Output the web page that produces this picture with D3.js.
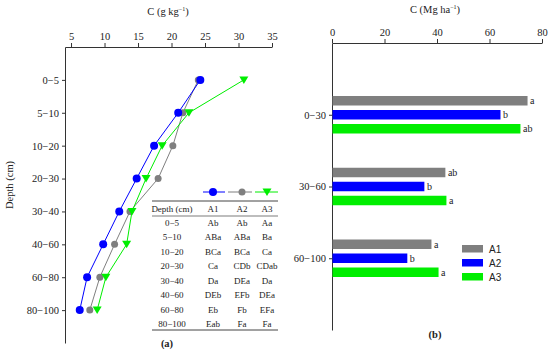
<!DOCTYPE html>
<html>
<head>
<meta charset="utf-8">
<script src="https://cdn.jsdelivr.net/npm/d3@7"></script>
<style>
  body { margin: 0; background: #fff; }
  text { font-family: "Liberation Serif", "Times New Roman", serif; fill: #222; }
  .axis path, .axis line { stroke: #333; }
</style>
</head>
<body>
<div id="chart"></div>
<script>
// panel (a): C concentration by depth
var depthsA = ["0\u22125", "5\u221210", "10\u221220", "20\u221230", "30\u221240", "40\u221260", "60\u221280", "80\u2212100"];
var concA1 = [24.3, 21.0, 17.4, 14.8, 12.2, 9.8, 7.4, 6.3];
var concA2 = [24.0, 21.7, 20.2, 18.0, 13.8, 11.5, 9.3, 7.8];
var concA3 = [30.8, 22.6, 18.6, 16.2, 14.1, 13.3, 10.2, 8.9];
var ticksA = [5, 10, 15, 20, 25, 30, 35];
// letters in the inset table
var lettersA1 = ["Ab", "ABa", "BCa", "Ca", "Da", "DEb", "Eb", "Eab"];
var lettersA2 = ["Ab", "ABa", "BCa", "CDb", "DEa", "EFb", "Fb", "Fa"];
var lettersA3 = ["Aa", "Ba", "Ca", "CDab", "Da", "DEa", "EFa", "Fa"];

// panel (b): C stock by layer
var depthsB = ["0\u221230", "30\u221260", "60\u2212100"];
var stockA1 = [74.3, 43.0, 37.7];
var stockA2 = [64.0, 35.0, 28.5];
var stockA3 = [71.6, 43.4, 40.4];
var lettersB1 = ["a", "ab", "a"];
var lettersB2 = ["b", "b", "b"];
var lettersB3 = ["ab", "a", "a"];
var ticksB = [0, 20, 40, 60, 80];

var blue = "#0000ff", gray = "#7f7f7f", green = "#00ee00";

var svg = d3.select("#chart").append("svg")
  .attr("width", 550).attr("height", 351);

// ---------- panel (a) ----------
var xa = d3.scaleLinear().domain([4.1, 35]).range([65, 272]);
var ya = d3.scalePoint().domain(depthsA).range([47, 343]).padding(1);

svg.append("g").attr("class", "axis")
  .attr("transform", "translate(0,47)")
  .call(d3.axisTop(xa).tickValues(ticksA).tickSize(4).tickSizeOuter(0))
  .call(g => g.selectAll("text").style("font-size", "10.5px").style("font-family", "Liberation Serif"));

svg.append("g").attr("class", "axis")
  .attr("transform", "translate(65,0)")
  .call(d3.axisLeft(ya).tickSize(3).tickSizeOuter(0))
  .call(g => g.selectAll("text").style("font-size", "10.5px").style("font-family", "Liberation Serif"));

var titleA = svg.append("text").attr("x", 168).attr("y", 15)
  .attr("text-anchor", "middle").style("font-size", "10.5px");
titleA.append("tspan").text("C (g kg");
titleA.append("tspan").attr("dy", -4).style("font-size", "6px").text("\u22121");
titleA.append("tspan").attr("dy", 4).text(")");

svg.append("text")
  .attr("transform", "translate(13,185) rotate(-90)")
  .attr("text-anchor", "middle").style("font-size", "10.5px")
  .text("Depth (cm)");

var seriesA = [
  { vals: concA1, color: blue, shape: "circle", r: 4 },
  { vals: concA2, color: gray, shape: "circle", r: 3.5 },
  { vals: concA3, color: green, shape: "tri", r: 4 }
];

var line = d3.line()
  .x(d => xa(d.v))
  .y(d => ya(d.d));

function drawMarker(g, s, x, y) {
  if (s.shape == "circle") {
    g.append("circle").attr("cx", x).attr("cy", y).attr("r", s.r).attr("fill", s.color);
  } else {
    g.append("path")
      .attr("d", "M" + (x - 4.5) + "," + (y - 3.5) + "L" + (x + 4.5) + "," + (y - 3.5) + "L" + x + "," + (y + 4) + "Z")
      .attr("fill", s.color);
  }
}

// draw gray first, then green, blue on top
[seriesA[1], seriesA[2], seriesA[0]].forEach(function(s) {
  var pts = s.vals.map((v, i) => ({ v: v, d: depthsA[i] }));
  svg.append("path").datum(pts)
    .attr("d", line)
    .attr("fill", "none")
    .attr("stroke", s.color)
    .attr("stroke-width", 1);
  var g = svg.append("g");
  pts.forEach(p => drawMarker(g, s, xa(p.v), ya(p.d)));
});

// inset table
var tab = svg.append("g");
var colX = [172, 213, 242, 267];
var legSeg = [[203, 225], [228, 252], [255, 278]];
seriesA.forEach(function(s, i) {
  tab.append("line").attr("x1", legSeg[i][0]).attr("x2", legSeg[i][1])
    .attr("y1", 192).attr("y2", 192).attr("stroke", s.color);
  drawMarker(tab, s, colX[i + 1], 192);
});
tab.append("line").attr("x1", 152).attr("x2", 278).attr("y1", 201).attr("y2", 201).attr("stroke", "#444");
tab.append("line").attr("x1", 152).attr("x2", 278).attr("y1", 216).attr("y2", 216).attr("stroke", "#444").attr("stroke-width", 0.7);
tab.append("line").attr("x1", 152).attr("x2", 278).attr("y1", 330).attr("y2", 330).attr("stroke", "#444");

var header = ["Depth (cm)", "A1", "A2", "A3"];
header.forEach(function(h, i) {
  tab.append("text").attr("x", colX[i]).attr("y", 212)
    .attr("text-anchor", "middle").style("font-size", "9px").text(h);
});
var rowY = d3.scaleLinear().domain([0, 7]).range([226, 327]);
depthsA.forEach(function(d, r) {
  var row = [d, lettersA1[r], lettersA2[r], lettersA3[r]];
  row.forEach(function(t, i) {
    tab.append("text").attr("x", colX[i]).attr("y", rowY(r))
      .attr("text-anchor", "middle").style("font-size", "9px").text(t);
  });
});

svg.append("text").attr("x", 167).attr("y", 347)
  .attr("text-anchor", "middle").style("font-size", "10.5px").style("font-weight", "bold").text("(a)");

// ---------- panel (b) ----------
var xb = d3.scaleLinear().domain([0, 80]).range([332, 542]);
var yb = d3.scalePoint().domain(depthsB).range([43, 330]).padding(1);

svg.append("g").attr("class", "axis")
  .attr("transform", "translate(0,43)")
  .call(d3.axisTop(xb).tickValues(ticksB).tickSize(4).tickSizeOuter(0))
  .call(g => g.selectAll("text").style("font-size", "10.5px").style("font-family", "Liberation Serif"));

svg.append("g").attr("class", "axis")
  .attr("transform", "translate(332,0)")
  .call(d3.axisLeft(yb).tickSize(3).tickSizeOuter(0))
  .call(g => g.selectAll("text").style("font-size", "10.5px").style("font-family", "Liberation Serif"));

var titleB = svg.append("text").attr("x", 435).attr("y", 13)
  .attr("text-anchor", "middle").style("font-size", "10.5px");
titleB.append("tspan").text("C  (Mg ha");
titleB.append("tspan").attr("dy", -4).style("font-size", "6px").text("\u22121");
titleB.append("tspan").attr("dy", 4).text(")");

var seriesB = [
  { vals: stockA1, letters: lettersB1, color: gray, off: -14 },
  { vals: stockA2, letters: lettersB2, color: blue, off: 0 },
  { vals: stockA3, letters: lettersB3, color: green, off: 14 }
];
var barH = 9.5;
seriesB.forEach(function(s) {
  var g = svg.append("g");
  g.selectAll("rect").data(s.vals).enter().append("rect")
    .attr("x", xb(0) + 0.5)
    .attr("y", (d, i) => yb(depthsB[i]) + s.off - barH / 2)
    .attr("width", d => xb(d) - xb(0))
    .attr("height", barH)
    .attr("fill", s.color);
  g.selectAll("text").data(s.vals).enter().append("text")
    .attr("x", d => xb(d) + 3)
    .attr("y", (d, i) => yb(depthsB[i]) + s.off + 3.5)
    .style("font-size", "10px")
    .text((d, i) => s.letters[i]);
});

var legNames = ["A1", "A2", "A3"];
seriesB.forEach(function(s, i) {
  svg.append("rect").attr("x", 462).attr("y", 245 + i * 14)
    .attr("width", 21).attr("height", 7.5).attr("fill", s.color);
  svg.append("text").attr("x", 489).attr("y", 252.5 + i * 14)
    .style("font-family", "Liberation Sans, Arial, sans-serif")
    .style("font-size", "10px").text(legNames[i]);
});

svg.append("text").attr("x", 435).attr("y", 338)
  .attr("text-anchor", "middle").style("font-size", "10.5px").style("font-weight", "bold").text("(b)");
</script>
</body>
</html>
